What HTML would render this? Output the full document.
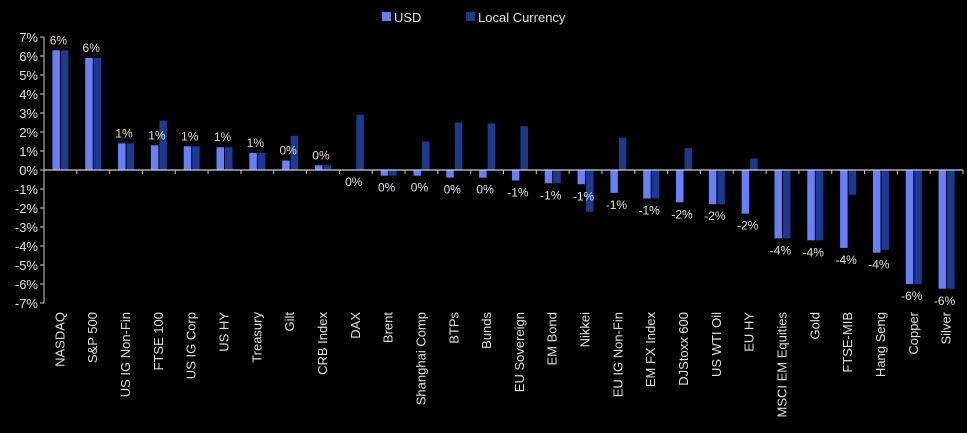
<!DOCTYPE html>
<html><head><meta charset="utf-8"><style>
html,body{margin:0;padding:0;background:#000;}
svg{display:block;font-family:"Liberation Sans",Arial,sans-serif;}
</style></head><body>
<svg id="chart" width="967" height="433">
<g>
<rect x="382" y="12" width="9" height="9" fill="#6680ff"/>
<text x="394" y="22" fill="#e0e0e0" font-size="13">USD</text>
<rect x="466" y="12" width="9" height="9" fill="#1c3a8e"/>
<text x="478" y="22" fill="#e0e0e0" font-size="13">Local Currency</text>
</g>
</svg>
<script>
const categories=["NASDAQ","S&P 500","US IG Non-Fin","FTSE 100","US IG Corp","US HY","Treasury","Gilt","CRB Index","DAX","Brent","Shanghai Comp","BTPs","Bunds","EU Sovereign","EM Bond","Nikkei","EU IG Non-Fin","EM FX Index","DJStoxx 600","US WTI Oil","EU HY","MSCI EM Equities","Gold","FTSE-MIB","Hang Seng","Copper","Silver"];
const usdValues=[6.3,5.9,1.4,1.3,1.25,1.2,0.9,0.5,0.25,0,-0.3,-0.3,-0.4,-0.4,-0.55,-0.7,-0.75,-1.2,-1.5,-1.7,-1.8,-2.3,-3.6,-3.7,-4.1,-4.35,-6.0,-6.25];
const localValues=[6.3,5.9,1.4,2.6,1.25,1.2,0.9,1.8,0.25,2.9,-0.3,1.5,2.5,2.45,2.3,-0.7,-2.2,1.7,-1.5,1.15,-1.8,0.6,-3.6,-3.7,-1.3,-4.2,-6.0,-6.25];
const valueLabels=["6%","6%","1%","1%","1%","1%","1%","0%","0%","0%","0%","0%","0%","0%","-1%","-1%","-1%","-1%","-1%","-2%","-2%","-2%","-4%","-4%","-4%","-4%","-6%","-6%"];
const yTicks=[7,6,5,4,3,2,1,0,-1,-2,-3,-4,-5,-6,-7];

const NS="http://www.w3.org/2000/svg";
const svg=document.getElementById('chart');
const x0=44,x1=963,zeroY=170,pxPer=19;
const step=(x1-x0)/categories.length;
const y=v=>zeroY-v*pxPer;
const xc=i=>x0+step*(i+0.5);
function mk(tag,attrs){const e=document.createElementNS(NS,tag);for(const k in attrs)e.setAttribute(k,attrs[k]);svg.appendChild(e);return e;}

const yAxis=mk('line',{x1:x0,y1:y(7),x2:x0,y2:y(-7),stroke:'#ccc','stroke-width':1});


yTicks.forEach(t=>{
  const tk=mk('line',{x1:x0-4,y1:y(t),x2:x0,y2:y(t),stroke:'#ccc','stroke-width':1});
  
  
  const tl=mk('text',{x:38,y:y(t)+5,fill:'#e0e0e0','font-size':13,'text-anchor':'end'});
  tl.textContent=t+'%';
  
  
});
categories.forEach((c,i)=>{
  const bw=7.5;
  const u=usdValues[i],l=localValues[i];
  const ub=mk('rect',{x:xc(i)-bw-0.5,y:Math.min(y(u),zeroY),width:bw,height:Math.abs(y(u)-zeroY),fill:'#6680ff'});
  
  
  const lb=mk('rect',{x:xc(i)+0.5,y:Math.min(y(l),zeroY),width:bw,height:Math.abs(y(l)-zeroY),fill:'#1c3a8e'});
  
  
  const ly=u>0?y(u)-6:y(u)+16;
  const vl=mk('text',{x:xc(i)-2,y:ly,fill:u>0?'#e8dcc0':'#e0e0e0','font-size':12,'text-anchor':'middle'});
  vl.textContent=valueLabels[i];
  
  
  const tk=mk('line',{x1:x0+step*(i+1),y1:zeroY,x2:x0+step*(i+1),y2:zeroY+4,stroke:'#ccc','stroke-width':1});
  
  
  const xl=mk('text',{x:0,y:0,fill:'#e0e0e0','font-size':13,'text-anchor':'end',transform:`translate(${xc(i)+4},312) rotate(-90)`});
  xl.textContent=c;
  
  
});
const xAxis=mk('line',{x1:x0,y1:zeroY,x2:x1,y2:zeroY,stroke:'#ccc','stroke-width':1.2});


</script>
</body></html>
